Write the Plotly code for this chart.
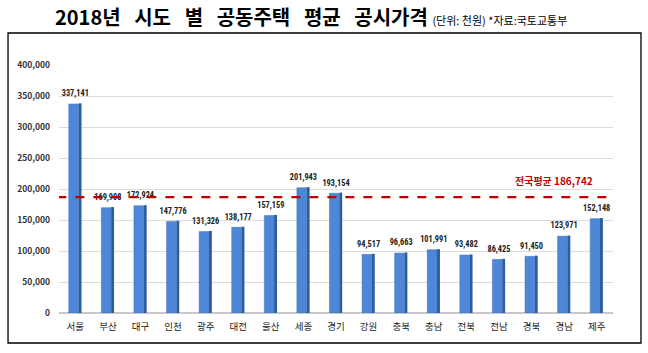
import plotly.graph_objects as go

regions = ["서울", "부산", "대구", "인천", "광주", "대전", "울산", "세종", "경기",
           "강원", "충북", "충남", "전북", "전남", "경북", "경남", "제주"]
prices = [337141, 169908, 172924, 147776, 131326, 138177, 157159, 201943, 193154,
          94517, 96663, 101991, 93482, 86425, 91450, 123971, 152148]
national_avg = 186742
y_ticks = [0, 50000, 100000, 150000, 200000, 250000, 300000, 350000, 400000]

FONT = "Noto Sans CJK KR"
NARROW = "Liberation Sans Narrow, Roboto Condensed, Roboto, sans-serif"

fig = go.Figure()
# darker side face (pseudo 3D)
fig.add_trace(go.Bar(
    x=regions, y=[v + 2500 for v in prices], base=[-1500] * len(prices),
    offset=0.1, width=0.09, marker=dict(color="#2d5d9c", line=dict(width=0)),
    hoverinfo="skip", showlegend=False))
# front face
fig.add_trace(go.Bar(
    x=regions, y=prices, offset=-0.2, width=0.3,
    marker=dict(color="#4f87d8", line=dict(color="#3a6cb8", width=0.5)),
    hoverinfo="skip", showlegend=False))

# national average dashed line
fig.add_trace(go.Scatter(
    x=[-0.55, 16.55], y=[national_avg, national_avg], mode="lines",
    line=dict(color="#c00000", width=2.2, dash="dash"),
    hoverinfo="skip", showlegend=False, xaxis="x2"))

# value labels (drawn on top of the line)
fig.add_trace(go.Scatter(
    x=regions, y=[v + 9000 for v in prices], mode="text",
    text=[f"<b>{v:,}</b>" for v in prices], textposition="top center",
    textfont=dict(family=NARROW, size=8.3, color="#222222"),
    cliponaxis=False, hoverinfo="skip", showlegend=False))

sp = "\u00a0" * 3
title_main = sp.join(["2018년", "시도", "별", "공동주택", "평균", "공시가격"])

fig.update_layout(
    width=648, height=353,
    margin=dict(l=59, r=35, t=65, b=40),
    paper_bgcolor="white", plot_bgcolor="white",
    barmode="overlay",
    font=dict(family=FONT),
    xaxis=dict(type="category", showgrid=False, showline=False, zeroline=False,
               tickfont=dict(family=FONT, size=9.5, color="#222222"), ticks="",
               range=[-0.5, 16.5], ticklabelstandoff=6),
    xaxis2=dict(overlaying="x", range=[-0.5, 16.5], visible=False),
    yaxis=dict(range=[0, 400000], tickvals=y_ticks,
               ticktext=[f"<b>{v:,}</b>" for v in y_ticks],
               tickfont=dict(family=FONT, size=8.5, color="#333333"),
               showgrid=True, gridcolor="#dcdcdc", gridwidth=1,
               zeroline=True, zerolinecolor="#c8c8c8", showline=False,
               ticks="", ticklabelstandoff=8),
    shapes=[dict(type="rect", xref="paper", yref="paper",
                 x0=-0.092, x1=1.0505, y0=-0.121, y1=1.129,
                 line=dict(color="black", width=1.3), fillcolor="rgba(0,0,0,0)",
                 layer="below")],
    annotations=[
        dict(xref="paper", yref="paper", x=0.455, y=1.195, showarrow=False,
             xanchor="center", yanchor="middle",
             text=f"<b>{title_main}</b> "
                  "<span style='font-size:11px'>(단위: 천원) *자료:국토교통부</span>",
             font=dict(family=FONT, size=20, color="black")),
        dict(x=14.7, y=213000, xref="x", yref="y", showarrow=False,
             text=f"<b>전국평균 {national_avg:,}</b>",
             font=dict(family=FONT, size=10, color="#c00000")),
    ],
)

fig.write_html("out.html")
